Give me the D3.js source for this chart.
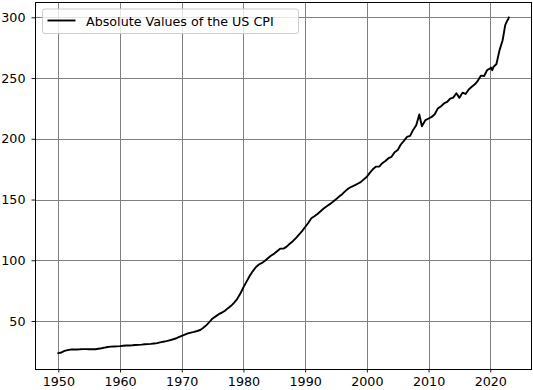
<!DOCTYPE html>
<html><head><meta charset="utf-8">
<script src="https://cdn.jsdelivr.net/npm/d3@7"></script>
<style>body{margin:0;background:#fff}svg{display:block}text{font-family:"DejaVu Sans",sans-serif}</style>
</head><body><svg id="c" width="533" height="390"></svg>
<script>
// Decimal year of each observation
const years = [
1950.0,1950.5,1951.0,1951.5,1952.0,1952.5,1953.0,1953.5,1954.0,1954.5,
1955.0,1955.5,1956.0,1956.5,1957.0,1957.5,1958.0,1958.5,1959.0,1959.5,
1960.0,1960.5,1961.0,1961.5,1962.0,1962.5,1963.0,1963.5,1964.0,1964.5,
1965.0,1965.5,1966.0,1966.5,1967.0,1967.5,1968.0,1968.5,1969.0,1969.5,
1970.0,1970.5,1971.0,1971.5,1972.0,1972.5,1973.0,1973.5,1974.0,1974.5,
1975.0,1975.5,1976.0,1976.5,1977.0,1977.5,1978.0,1978.5,1979.0,1979.5,
1980.0,1980.5,1981.0,1981.5,1982.0,1982.5,1983.0,1983.5,1984.0,1984.5,
1985.0,1985.5,1986.0,1986.5,1987.0,1987.5,1988.0,1988.5,1989.0,1989.5,
1990.0,1990.5,1991.0,1991.5,1992.0,1992.5,1993.0,1993.5,1994.0,1994.5,
1995.0,1995.5,1996.0,1996.5,1997.0,1997.5,1998.0,1998.5,1999.0,1999.5,
2000.0,2000.5,2001.0,2001.5,2002.0,2002.5,2003.0,2003.5,2004.0,2004.5,
2005.0,2005.5,2006.0,2006.5,2007.0,2007.5,2008.0,2008.5,2008.92,2009.0,2009.5,
2010.0,2010.5,2011.0,2011.5,2012.0,2012.5,2013.0,2013.5,2014.0,2014.5,
2015.0,2015.5,2016.0,2016.5,2017.0,2017.5,2018.0,2018.5,2019.0,2019.5,
2020.0,2020.1,2020.33,2020.5,2021.0,2021.5,2022.0,2022.42,2022.67,2022.92,2023.0
];
// CPI-U index values (1982-84 = 100)
const cpi = [
23.5,24.1,25.4,26.0,26.5,26.5,26.6,26.7,26.9,26.9,
26.7,26.8,26.8,27.2,27.6,28.1,28.6,28.9,29.0,29.1,
29.3,29.6,29.8,29.9,30.0,30.2,30.4,30.6,30.9,31.0,
31.2,31.5,31.8,32.4,32.9,33.4,34.1,34.8,35.6,36.7,
37.8,38.8,39.8,40.5,41.1,41.8,42.6,44.4,46.6,49.3,
52.1,53.8,55.6,56.9,58.5,60.6,62.5,65.2,68.3,72.6,
77.8,82.4,87.0,90.9,94.3,96.5,97.8,99.6,101.9,103.9,
105.5,107.6,109.6,109.6,111.2,113.6,115.7,118.3,121.1,124.0,
127.4,130.7,134.6,136.2,138.1,140.3,142.6,144.5,146.2,148.2,
150.3,152.4,154.4,156.9,159.1,160.5,161.6,163.0,164.3,166.6,
168.8,172.2,175.1,177.1,177.1,179.9,181.7,184.0,185.2,188.9,
190.7,195.3,198.3,201.6,202.4,207.3,211.1,220.0,210.2,211.1,215.4,
216.7,218.0,220.2,225.0,226.7,229.1,230.3,233.0,233.9,237.5,
233.7,238.0,236.9,240.6,242.8,244.8,247.9,252.0,251.7,256.6,
258.0,258.7,256.4,259.1,261.6,273.0,281.1,293.5,296.5,298.6,299.8
];
const xTicks = [1950,1960,1970,1980,1990,2000,2010,2020];
const yTicks = [50,100,150,200,250,300];
const legendLabel = "Absolute Values of the US CPI";

const svg = d3.select("#c");
const L=35, R=532, T=2, B=369;
const x = d3.scaleLinear().domain([1946.22,2026.76]).range([L,R]);
const y = d3.scaleLinear().domain([10.5,312.6]).range([B,T]);

// grid
const g = svg.append("g");
g.selectAll(".vx").data(xTicks).join("line")
  .attr("x1",d=>Math.round(x(d))+0.5).attr("x2",d=>Math.round(x(d))+0.5)
  .attr("y1",T).attr("y2",B).attr("stroke","#808080").attr("stroke-width",1);
g.selectAll(".hy").data(yTicks).join("line")
  .attr("y1",d=>Math.round(y(d))+0.5).attr("y2",d=>Math.round(y(d))+0.5)
  .attr("x1",L).attr("x2",R).attr("stroke","#808080").attr("stroke-width",1);

// line
const data = years.map((yr,i)=>({yr, v:cpi[i]}));
svg.append("path").datum(data)
  .attr("fill","none").attr("stroke","#000").attr("stroke-width",1.9)
  .attr("stroke-linejoin","round").attr("stroke-linecap","square")
  .attr("d", d3.line().x(d=>x(d.yr)).y(d=>y(d.v)));

// axes
const xa = svg.append("g").attr("transform",`translate(0,${B})`)
  .call(d3.axisBottom(x).tickValues(xTicks).tickFormat(d3.format("d")).tickSizeOuter(0).tickSize(3.5).tickPadding(4));
const ya = svg.append("g").attr("transform",`translate(${L},0)`)
  .call(d3.axisLeft(y).tickValues(yTicks).tickSizeOuter(0).tickSize(3.5).tickPadding(6));
[xa,ya].forEach(a=>{a.select(".domain").remove();
  a.selectAll("text").attr("font-family","DejaVu Sans").attr("font-size",12.7).attr("fill","#000");
  a.selectAll("line").attr("stroke","#000").attr("stroke-width",0.9);});
// spines
svg.append("rect").attr("x",L+0.5).attr("y",T+0.5).attr("width",R-L-1).attr("height",B-T)
  .attr("fill","none").attr("stroke","#000").attr("stroke-width",1);

// legend
const lg = svg.append("g");
lg.append("rect").attr("x",42.5).attr("y",9).attr("width",256).attr("height",24.5).attr("rx",2.5)
  .attr("fill","#fff").attr("fill-opacity",0.8).attr("stroke","#cccccc").attr("stroke-width",1);
lg.append("line").attr("x1",47.5).attr("x2",75.5).attr("y1",20.5).attr("y2",20.5)
  .attr("stroke","#000").attr("stroke-width",1.9);
lg.append("text").attr("x",86).attr("y",25.5).attr("font-size",12.7).attr("fill","#000").text(legendLabel);
</script></body></html>
